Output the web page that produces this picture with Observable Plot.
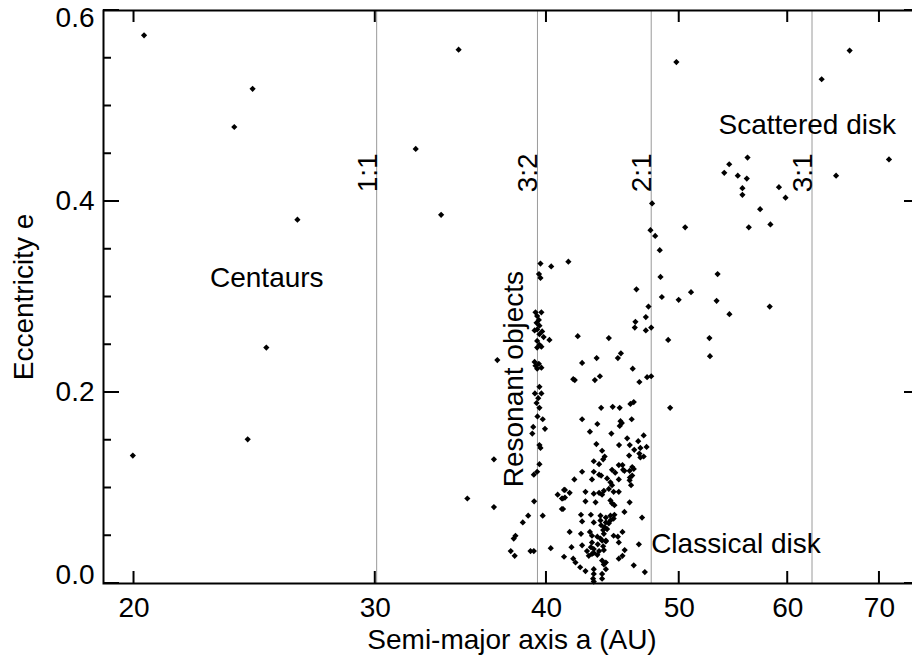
<!DOCTYPE html>
<html>
<head>
<meta charset="utf-8">
<script src="https://cdn.jsdelivr.net/npm/d3@7"></script>
<script src="https://cdn.jsdelivr.net/npm/@observablehq/plot@0.6"></script>
<style>
html, body { margin: 0; padding: 0; overflow: hidden; background: #fff; }
#chart svg { max-width: none !important; width: 921px !important; height: 655px !important; display: block; }
</style>
</head>
<body>
<div id="chart"></div>
<script>
// [semi-major axis a (AU), eccentricity e]
const centaurs = [
  [20.34,0.574],[24.41,0.518],[23.67,0.478],[26.32,0.381],[32.11,0.455],[33.51,0.386],[34.51,0.559],
  [24.98,0.247],[24.21,0.151],[19.96,0.134],[35.02,0.089],[36.62,0.080],[36.62,0.130],[36.83,0.234]
];
const scatteredDisk = [
  [49.76,0.546],[63.52,0.528],[66.58,0.558],[71.13,0.444],[65.08,0.427],[56.08,0.446],[54.38,0.439],[53.93,0.430],
  [55.17,0.427],[56.01,0.424],[55.6,0.414],[55.6,0.407],[59.12,0.415],[59.78,0.404],[57.28,0.392],[56.2,0.373],
  [58.28,0.376],[47.77,0.398],[50.5,0.373],[47.64,0.370],[48.02,0.364],[48.39,0.349],[48.45,0.321],[48.56,0.300],
  [49.95,0.297],[51.0,0.305],[53.33,0.324],[53.24,0.296],[54.4,0.282],[58.21,0.290],[46.53,0.308],[47.48,0.290],
  [47.27,0.279],[46.45,0.274],[47.7,0.268],[46.4,0.268],[47.27,0.265],[49.08,0.255],[49.24,0.184],[52.6,0.257],
  [52.65,0.238]
];
const resonant = [
  [39.6,0.335],[40.32,0.332],[41.5,0.337],[39.5,0.324],[39.6,0.320],[39.27,0.284],[39.66,0.284],[39.38,0.280],
  [39.49,0.276],[39.34,0.273],[39.53,0.270],[39.38,0.266],[39.71,0.264],[39.53,0.261],[39.81,0.258],[40.2,0.255],
  [39.53,0.250],[39.38,0.247],[39.66,0.248],[39.27,0.228],[39.49,0.230],[39.66,0.226],[39.38,0.225],[39.53,0.206],
  [39.23,0.199],[39.66,0.199],[39.45,0.194],[39.34,0.189],[39.53,0.184],[39.4,0.175],[39.75,0.172],[39.12,0.164],
  [39.9,0.162],[39.06,0.157],[39.53,0.145],[39.6,0.142],[39.53,0.125],[39.16,0.114],[39.38,0.117],[39.18,0.086],
  [39.75,0.071],[38.79,0.071],[38.44,0.064],[37.97,0.050],[37.86,0.047],[37.67,0.034],[37.92,0.029],[38.94,0.034],
  [39.16,0.034],[40.29,0.037],[39.21,0.265],[39.38,0.254],[39.21,0.232]
];
const classicalDisk = [
  [42.16,0.259],[44.42,0.257],[45.33,0.241],[45.1,0.236],[43.52,0.236],[42.47,0.231],[46.24,0.225],[41.84,0.214],
  [41.95,0.213],[43.39,0.213],[43.76,0.217],[46.76,0.211],[47.37,0.216],[47.7,0.217],[43.85,0.184],[44.71,0.185],
  [45.24,0.184],[46.06,0.188],[46.32,0.190],[42.47,0.172],[43.57,0.167],[45.3,0.170],[45.24,0.165],[45.4,0.168],
  [46.16,0.172],[43.03,0.159],[44.61,0.157],[47.1,0.155],[45.81,0.152],[46.67,0.149],[43.5,0.146],[45.19,0.145],
  [46.01,0.145],[46.84,0.142],[47.33,0.143],[46.36,0.140],[43.92,0.139],[46.76,0.136],[46.84,0.132],[47.1,0.133],
  [45.96,0.134],[44.11,0.133],[44.0,0.130],[43.31,0.128],[43.7,0.125],[45.17,0.124],[45.45,0.124],[46.2,0.122],
  [46.32,0.120],[44.66,0.119],[45.5,0.119],[42.47,0.117],[43.31,0.117],[44.9,0.116],[46.0,0.118],[46.2,0.113],
  [43.85,0.113],[44.29,0.110],[41.92,0.109],[43.18,0.109],[45.17,0.109],[46.0,0.108],[44.54,0.106],[44.66,0.103],
  [46.11,0.103],[44.42,0.099],[44.05,0.097],[44.78,0.096],[45.17,0.096],[42.71,0.096],[43.31,0.094],[43.7,0.095],
  [43.92,0.093],[41.26,0.098],[41.59,0.095],[41.05,0.089],[41.26,0.090],[41.13,0.078],[42.71,0.086],[43.44,0.085],
  [44.54,0.087],[44.66,0.084],[44.84,0.082],[46.0,0.085],[46.97,0.069],[45.6,0.075],[42.39,0.072],[43.1,0.072],
  [43.8,0.071],[44.2,0.069],[44.54,0.071],[44.84,0.072],[42.47,0.065],[43.31,0.064],[43.8,0.066],[44.2,0.064],
  [44.54,0.066],[44.78,0.068],[43.85,0.061],[44.11,0.059],[44.0,0.056],[44.29,0.057],[41.59,0.054],[42.39,0.052],
  [43.03,0.054],[43.18,0.050],[44.78,0.050],[45.1,0.049],[45.45,0.054],[43.57,0.049],[43.8,0.047],[44.2,0.045],
  [43.18,0.043],[43.1,0.038],[43.31,0.036],[43.6,0.041],[44.0,0.039],[41.72,0.038],[42.47,0.040],[42.82,0.034],
  [42.95,0.029],[43.31,0.032],[43.57,0.030],[45.17,0.043],[46.72,0.041],[45.62,0.035],[45.45,0.029],[41.2,0.028],
  [41.84,0.026],[42.0,0.022],[43.92,0.024],[44.05,0.020],[44.2,0.022],[45.17,0.026],[46.32,0.019],[42.33,0.017],
  [42.71,0.013],[43.31,0.015],[43.31,0.010],[43.26,0.005],[43.92,0.010],[47.19,0.012],[40.76,0.093],[41.11,0.089],
  [41.05,0.078],[41.2,0.098],[44.42,0.063],[44.05,0.052],[43.92,0.045],[44.2,0.044],[44.05,0.035],[43.18,0.031],
  [43.7,0.034],[44.2,0.015],[43.92,0.005],[43.31,0.002],[43.7,0.114],[45.6,0.118],[46.02,0.111]
];

// Mean-motion resonances with Neptune
const resonanceA = [30.07, 39.4, 47.7, 62.5];
const resonanceLabels = ["1:1", "3:2", "2:1", "3:1"];

// Region annotations
const regionNames = ["Centaurs", "Scattered disk", "Classical disk"];
const regionA = [25.0, 62.0, 55.0];
const regionE = [0.320, 0.480, 0.041];

const xTicks = [20, 30, 40, 50, 60, 70];
const yTicks = [0.0, 0.2, 0.4, 0.6];
const yMinorTicks = [0.05, 0.10, 0.15, 0.25, 0.30, 0.35, 0.45, 0.50, 0.55];

const objects = [...centaurs, ...scatteredDisk, ...resonant, ...classicalDisk]
  .map(([a, e]) => ({a, e}));
const resonances = resonanceA.map((a, i) => ({a, label: resonanceLabels[i]}));
const regions = regionNames.map((name, i) => ({name, a: regionA[i], e: regionE[i]}));

const font = '"Liberation Sans", Arial, Helvetica, sans-serif';
const fmt = d3.format(".1f");

// Inward-pointing ticks on all four sides, placed through Plot's own scales
function inwardTicks(index, scales, values, dims) {
  const {x, y} = scales;
  const left = dims.marginLeft, right = dims.width - dims.marginRight;
  const top = dims.marginTop, bottom = dims.height - dims.marginBottom;
  const g = d3.create("svg:g").attr("stroke", "black").attr("stroke-width", 2).attr("fill", "none");
  const seg = (x1, y1, x2, y2) => g.append("line").attr("x1", x1).attr("y1", y1).attr("x2", x2).attr("y2", y2);
  for (const t of xTicks) {
    const px = x(t);
    seg(px, bottom, px, bottom - 12);
    seg(px, top, px, top + 12);
  }
  for (const t of yTicks) {
    const py = y(t);
    seg(left, py, left + 16, py);
    seg(right, py, right - 16, py);
  }
  for (const t of yMinorTicks) {
    const py = y(t);
    seg(left, py, left + 8, py);
    seg(right, py, right - 8, py);
  }
  return g.node();
}

const chart = Plot.plot({
  width: 921,
  height: 655,
  marginLeft: 103,
  marginRight: 1,
  marginTop: 10,
  marginBottom: 72,
  style: {fontFamily: font, fontSize: "28px", background: "white", color: "black", maxWidth: "none"},
  x: {type: "log", domain: [19, 75]},
  y: {domain: [0, 0.6]},
  marks: [
    Plot.ruleX(resonances, {x: "a", stroke: "#9a9a9a", strokeWidth: 1}),
    Plot.dot(objects, {x: "a", y: "e", symbol: "diamond2", r: 2.8, fill: "black", stroke: "none"}),
    Plot.text(resonances, {x: "a", y: 0.43, text: "label", rotate: -90, lineAnchor: "bottom", textAnchor: "middle", fontSize: 28, fill: "black"}),
    Plot.text(regions, {x: "a", y: "e", text: "name", fontSize: 28, fill: "black"}),
    Plot.text(["Resonant objects"], {x: 37.9, y: 0.214, text: d => d, rotate: -90, fontSize: 28, fill: "black"}),
    Plot.frame({stroke: "black", strokeWidth: 2}),
    inwardTicks,
    // tick labels and titles
    Plot.axisX({ticks: xTicks, anchor: "bottom", tickSize: 0, tickPadding: 14, tickFormat: d3.format("d"),
      fontSize: 28, label: "Semi-major axis a (AU)", labelAnchor: "center", labelOffset: 65, labelArrow: "none"}),
    Plot.axisY({ticks: [0.2, 0.4], anchor: "left", tickSize: 0, tickPadding: 9, tickFormat: fmt,
      fontSize: 28, label: "Eccentricity e", labelAnchor: "center", labelOffset: 90, labelArrow: "none"}),
    Plot.axisY({ticks: [0.0], anchor: "left", tickSize: 0, tickPadding: 9, tickFormat: fmt, dy: -8,
      fontSize: 28, label: null}),
    Plot.axisY({ticks: [0.6], anchor: "left", tickSize: 0, tickPadding: 9, tickFormat: fmt, dy: 8,
      fontSize: 28, label: null})
  ]
});

document.getElementById("chart").appendChild(chart);
</script>
</body>
</html>
